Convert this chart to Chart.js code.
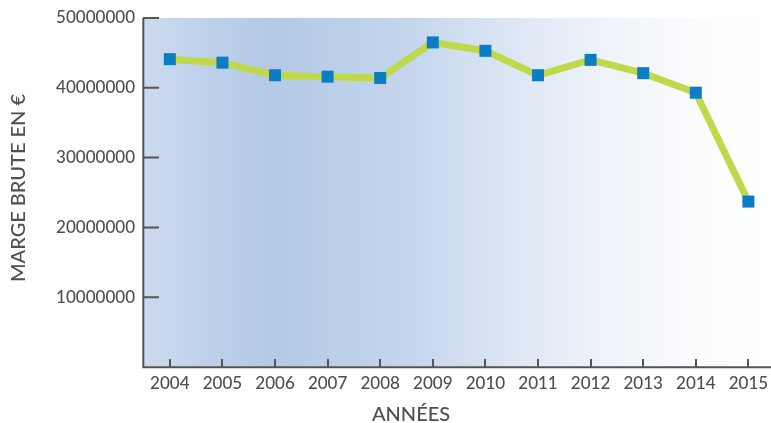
<!DOCTYPE html>
<html>
<head>
<meta charset="utf-8">
<script src="https://cdn.jsdelivr.net/npm/chart.js@4.4.0/dist/chart.umd.min.js"></script>
<style>
  html, body { margin: 0; padding: 0; background: #fff; }
  #wrap { width: 771px; height: 423px; }
</style>
</head>
<body>
<div id="wrap"><canvas id="chart" width="771" height="423"></canvas></div>
<script>
/* ── données ── */
const annees = [2004, 2005, 2006, 2007, 2008, 2009, 2010, 2011, 2012, 2013, 2014, 2015];
const margeBrute = [44100000, 43600000, 41800000, 41600000, 41400000, 46500000, 45300000, 41800000, 44000000, 42100000, 39300000, 23700000];
const yTicks = [10000000, 20000000, 30000000, 40000000, 50000000];
const titreX = "ANNÉES";
const titreY = "MARGE BRUTE EN €";

const TEXTE = "#4f4f4f";
const AXE = "#555555";
const POLICE = "Lato";

/* fond dégradé + axes dessinés à la main (petits traits vers l'intérieur) */
const axesPlugin = {
  id: "axesPlugin",
  beforeDatasetsDraw(chart) {
    const { ctx, chartArea: a } = chart;
    const g = ctx.createLinearGradient(a.left, 0, a.right, 0);
    g.addColorStop(0, "#cbdaef");
    g.addColorStop(0.2, "#b3c9e6");
    g.addColorStop(0.42, "#c4d5ec");
    g.addColorStop(0.56, "#d9e4f3");
    g.addColorStop(0.72, "#edf2f9");
    g.addColorStop(0.88, "#fbfcfe");
    g.addColorStop(1, "#ffffff");
    ctx.save();
    ctx.fillStyle = g;
    ctx.fillRect(a.left, a.top, a.right - a.left, a.bottom - a.top);
    ctx.restore();
  },
  afterDatasetsDraw(chart) {
    const { ctx, chartArea: a, scales } = chart;
    ctx.save();
    ctx.strokeStyle = AXE;
    ctx.lineWidth = 2;
    ctx.beginPath();
    ctx.moveTo(a.left + 0.3, a.top);
    ctx.lineTo(a.left + 0.3, a.bottom + 1.3);
    ctx.moveTo(a.left, a.bottom + 0.3);
    ctx.lineTo(a.right, a.bottom + 0.3);
    // ticks y
    yTicks.forEach(v => {
      const y = scales.y.getPixelForValue(v);
      ctx.moveTo(a.left, y);
      ctx.lineTo(a.left + 16, y);
    });
    // ticks x
    annees.forEach(v => {
      const x = Math.round(scales.x.getPixelForValue(v));
      ctx.moveTo(x, a.bottom);
      ctx.lineTo(x, a.bottom - 8);
    });
    ctx.stroke();

    // titres
    ctx.fillStyle = TEXTE;
    ctx.font = "500 20px " + POLICE;
    ctx.textAlign = "center";
    ctx.textBaseline = "middle";
    ctx.fillText(titreX, 411, 415);
    ctx.translate(19, 188);
    ctx.rotate(-Math.PI / 2);
    ctx.fillText(titreY, 0, 0);
    ctx.restore();
  }
};

new Chart(document.getElementById("chart"), {
  type: "line",
  data: {
    datasets: [{
      label: "Marge brute",
      data: annees.map((a, i) => ({ x: a, y: margeBrute[i] })),
      borderColor: "#bfd94a",
      borderWidth: 7,
      pointStyle: "rect",
      pointRadius: 8.5,
      pointBorderWidth: 0,
      pointBackgroundColor: "#0a7dc4",
      tension: 0,
      fill: false,
      clip: false,
    }]
  },
  options: {
    responsive: false,
    animation: false,
    layout: { autoPadding: false, padding: { top: 18, right: 0, left: 0, bottom: 0 } },
    plugins: { legend: { display: false }, tooltip: { enabled: false } },
    scales: {
      x: {
        type: "linear",
        min: 2003.49,
        max: 2015.43,
        grid: { display: false, drawTicks: false },
        border: { display: false },
        afterFit: s => { s.height = 56; s.paddingLeft = 0; s.paddingRight = 0; },
        ticks: {
          stepSize: 1,
          includeBounds: false,
          padding: 6,
          color: TEXTE,
          font: { family: POLICE, size: 17, weight: "500" },
          maxRotation: 0,
          callback: v => String(v),
        }
      },
      y: {
        min: 0,
        max: 50000000,
        grid: { display: false, drawTicks: false },
        border: { display: false },
        afterFit: s => { s.width = 143; s.paddingTop = 0; s.paddingBottom = 0; },
        ticks: {
          stepSize: 10000000,
          padding: 8,
          color: TEXTE,
          font: { family: POLICE, size: 17, weight: "500" },
          callback: v => (v === 0 ? null : String(v)),
        }
      }
    }
  },
  plugins: [axesPlugin]
});
</script>
</body>
</html>
